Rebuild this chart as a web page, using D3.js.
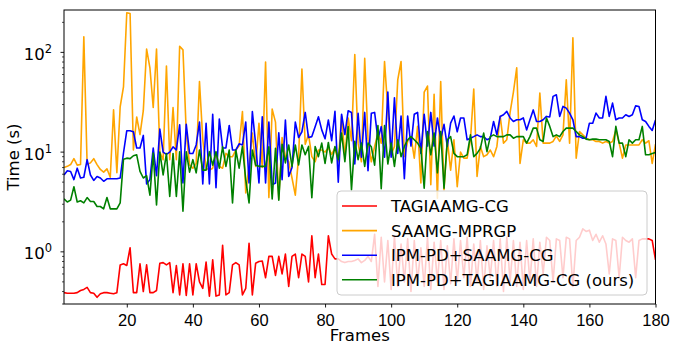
<!DOCTYPE html>
<html>
<head>
<meta charset="utf-8">
<script src="https://cdn.jsdelivr.net/npm/d3@7"></script>
<style>
  body { margin: 0; background: #fff; }
  svg { display: block; font-family: "DejaVu Sans", sans-serif; }
</style>
</head>
<body>
<svg id="chart"></svg>
<script>
const width = 673;
const height = 346;
const margin = { top: 10, right: 17.5, bottom: 42, left: 64 };

// Frames 1..180
const frames = d3.range(1, 181);
const xTicks = [20, 40, 60, 80, 100, 120, 140, 160, 180];
const yTicks = [1, 10, 100];

const seriesNames = ["TAGIAAMG-CG", "SAAMG-MPRGP", "IPM-PD+SAAMG-CG", "IPM-PD+TAGIAAMG-CG (ours)"];
const seriesColors = ["red", "orange", "blue", "green"];

const tagiaamgCG = [
  0.39,0.385,0.385,0.385,0.39,0.41,0.42,0.44,0.39,0.385,
  0.35,0.38,0.39,0.39,0.385,0.38,0.39,0.74,0.76,0.73,
  1.1,0.39,0.39,0.76,0.4,0.74,0.39,0.39,0.41,0.77,
  0.78,0.74,0.78,0.39,0.73,0.37,0.76,0.365,0.76,0.37,
  0.76,0.5,0.43,0.79,0.36,0.83,0.36,0.37,1.16,0.37,
  0.39,0.74,0.78,0.74,0.37,0.43,1.22,0.37,0.77,0.8,
  0.81,0.55,0.9,0.9,0.58,0.9,0.6,0.95,0.45,0.9,
  0.95,0.55,0.95,0.9,0.5,1.45,0.55,0.95,0.47,0.47,
  1.45,0.95,0.85,0.85,0.8,0.78,0.8,0.8,0.82,0.85,
  0.78,0.82,0.9,0.8,1.5,0.45,1.4,0.5,1.3,0.42,
  1.45,0.45,1.2,0.5,1.35,0.4,1.3,0.5,1.1,0.45,
  1.4,0.42,1.25,0.5,1.3,0.42,1.15,0.48,1.35,0.5,
  1.3,0.55,1.4,0.45,1.2,0.5,1.3,0.42,1.15,0.55,
  1.3,0.45,1.35,0.4,1.4,0.5,1.3,0.45,1.25,0.42,
  1.3,0.5,1.35,0.45,1.25,0.6,1.4,1.3,0.5,1.35,
  1.3,0.55,1.4,1.35,0.45,1.3,1.4,1.7,1.6,1.65,
  1.3,1.5,1.25,1.45,1.2,0.6,1.35,1.3,0.55,1.4,
  1.3,1.25,1.35,0.55,1.3,1.35,1.35,1.35,1.3,0.83
];

const saamgMPRGP = [
  7.0,7.2,7.5,8.6,7.4,7.5,143,7.5,7.8,8.6,
  7.5,6.7,6.3,6.8,5.6,26.5,6.2,28.5,45,250,
  245,10.5,22.5,15,26,108,70,28,108,10,
  8.4,73,8.4,28,8.4,115,106,15.6,7.45,6.9,
  7.7,51,13.3,6.9,6.6,6.9,9.7,7.2,6.9,9.7,
  9.0,9.0,10.5,11.6,25.5,3.9,7.2,15.5,7.2,19.5,
  7,80,3.5,27,20,3.4,14,9,8,5.5,
  3.7,9,68,12,15,9,8,10.5,10.5,10,
  11,9.5,11,8,23,9,22,13,95,12.3,
  8.0,87,13.3,8.0,11.4,15.5,12.3,81,26.5,9.4,
  11.4,53,81,9.0,12.8,14.3,8.7,18.1,4.9,40,
  46,4.7,38,3.45,51,4.2,13.3,6.6,13.3,4.5,
  10,8.7,8.7,13.3,43,5.7,11.4,9,9.4,10.5,
  9,11.4,23,12.3,13.3,25,40,70,7.7,13.3,
  12.3,12.3,13.3,11.4,39,12.3,12.3,12.3,12.8,14.5,
  12.8,14.9,53,12.3,140,8.7,16.1,14.9,13.8,13.3,
  13.3,12.8,12.8,12.3,12.8,12.3,12.8,16.7,12.3,8.7,
  11.8,11.8,11.8,11.8,11.8,13.3,12.3,13,7.7,12
];

const ipmSAAMG = [
  5.9,6.5,6.4,5.3,6.9,5.5,5.6,8.4,5.9,5.2,
  5.7,5.5,5.1,5.4,5.4,5.4,5.4,5.5,9.8,16.4,
  16.4,16,11,11,14.7,4.8,5.3,11,5.8,17,
  10,9.5,10,11.3,10.5,18.8,4.9,19,9.7,9.7,
  11.8,20,4.8,19.5,4.8,24,4.4,21.5,11,11,
  18.5,10.5,10.5,12.1,11.8,20,4.9,25.5,12,4.9,
  22.6,4.9,20,4.7,4.9,15.6,5.3,21,5.7,7,
  20,14,16,25,14,14.3,18,22.6,16.7,13.6,
  21,13,25.7,5,24,15,26,25,7.6,24.5,
  8.9,25,6.5,24.5,25,13.5,18,8.9,40,8.9,
  35,9.7,23,5.4,23,11.5,24,25,9.7,24,
  11.5,25,11.5,22,13.5,19,11.4,19.5,23,16,
  22,22,13.3,13.8,14.3,14.9,14.3,14.3,13.3,13.8,
  20.3,14.9,22.8,23.7,25.6,22,20.3,21.1,21.1,22,
  16.7,21.1,26.5,20.3,20.3,21.1,22.8,22.5,36.2,37.6,
  22.8,28.7,27.6,24.6,21.1,14.3,14.3,13.8,13.8,19.5,
  19.5,24.6,22,22,36.2,22.8,31,21.1,22,22,
  23.7,22.8,23.7,29.1,28.7,21.1,20.3,18.1,16.5,21
];

const ipmTAGIAAMG = [
  3.4,3.16,3.3,4.5,3.16,3.25,3.1,3.5,3.2,3.2,
  2.85,2.85,2.7,3.5,2.7,2.7,2.7,3.1,8.5,8.7,
  8.6,9.2,9.4,6.4,5.5,5.8,3.7,9.8,2.95,10,
  5.9,9.7,3.6,9.7,3.6,10.1,2.55,10.1,6.3,8.4,
  6.2,10.5,6.6,6.6,10.1,7.4,10.1,6.9,11.3,7.2,
  10.5,3.1,10.5,6.9,11.4,5.3,3.1,10.5,7.4,7.2,
  7.2,7.2,11.3,3.4,10.9,3.3,12,7.8,11.8,7.2,
  11.8,7.45,11.8,9.4,11.4,3.5,11.4,9.0,12.3,7.7,
  12.5,7.8,11.4,8.4,15.5,8.0,18,4.2,12.8,8.4,
  12.3,7.2,12.3,11.3,7.4,18.5,4.3,18.5,7.6,12.3,
  7.2,13.3,9.0,11.4,13.3,14.3,13.3,12.3,10.9,4.35,
  16.1,9.4,15.5,6.2,16.1,4.35,13.3,14.3,9.7,9.0,
  9.0,9.0,9.4,14.9,9.0,9.7,10.9,15.5,10.1,14.3,
  14.9,14.3,14.3,14.3,14.9,14.9,13.8,14.3,14.3,14.3,
  12.3,14.3,17.4,17.4,13.3,12.8,22,18.1,14.3,14.9,
  14.3,16.1,17.4,17.4,17.4,16.1,14.9,14.3,13.5,13.3,
  13.5,13.5,13.3,13.3,13.3,12.8,9.0,18.1,12.3,12.3,
  9.0,13.3,12.3,13.3,13.3,18.1,9.4,9.4,9.7,9.9
];

const allSeries = [tagiaamgCG, saamgMPRGP, ipmSAAMG, ipmTAGIAAMG];

const svg = d3.select("#chart")
  .attr("width", width)
  .attr("height", height);

const x = d3.scaleLinear()
  .domain([1, 180])
  .range([margin.left, width - margin.right]);

const y = d3.scaleLog()
  .domain([0.3, 266])
  .range([height - margin.bottom, margin.top]);

svg.append("clipPath").attr("id", "plot-clip")
  .append("rect")
  .attr("x", margin.left).attr("y", margin.top)
  .attr("width", width - margin.left - margin.right)
  .attr("height", height - margin.top - margin.bottom);

// Lines
const line = d3.line()
  .x((d, i) => x(frames[i]))
  .y(d => y(d));

const plot = svg.append("g").attr("clip-path", "url(#plot-clip)");
allSeries.forEach((values, k) => {
  plot.append("path")
    .datum(values)
    .attr("fill", "none")
    .attr("stroke", seriesColors[k])
    .attr("stroke-width", 1.6)
    .attr("stroke-linejoin", "round")
    .attr("d", line);
});

// X axis
const xAxis = svg.append("g")
  .attr("transform", `translate(0, ${height - margin.bottom})`)
  .call(d3.axisBottom(x).tickValues(xTicks).tickSize(3.5).tickPadding(6.5).tickSizeOuter(0));
xAxis.select(".domain").remove();
xAxis.selectAll("text").style("font-size", "16.5px").attr("fill", "#000");
xAxis.selectAll("line").attr("stroke", "#000").attr("stroke-width", 0.9);

// Y axis, log
const minorTicks = [];
[0.1, 1, 10, 100].forEach(base => {
  for (let m = 2; m <= 9; m++) {
    const v = base * m;
    if (v >= 0.3 && v <= 266) minorTicks.push(v);
  }
});

const yAxis = svg.append("g").attr("transform", `translate(${margin.left}, 0)`);
yAxis.selectAll(".minor")
  .data(minorTicks)
  .join("line")
  .attr("x1", -2).attr("x2", 0)
  .attr("y1", d => y(d)).attr("y2", d => y(d))
  .attr("stroke", "#000").attr("stroke-width", 0.7);

yAxis.selectAll(".major")
  .data(yTicks)
  .join("line")
  .attr("x1", -3.5).attr("x2", 0)
  .attr("y1", d => y(d)).attr("y2", d => y(d))
  .attr("stroke", "#000").attr("stroke-width", 0.9);

const yLabels = yAxis.selectAll(".ylab")
  .data(yTicks)
  .join("text")
  .attr("x", -12)
  .attr("y", d => y(d) + 7.5)
  .attr("text-anchor", "end")
  .style("font-size", "16.5px");
yLabels.append("tspan").text("10");
yLabels.append("tspan")
  .attr("dy", -7)
  .style("font-size", "11.5px")
  .text(d => Math.round(Math.log10(d)));

// Frame
svg.append("rect")
  .attr("x", margin.left).attr("y", margin.top)
  .attr("width", width - margin.left - margin.right)
  .attr("height", height - margin.top - margin.bottom)
  .attr("fill", "none")
  .attr("stroke", "#000")
  .attr("stroke-width", 1);

// Axis titles
svg.append("text")
  .attr("x", (margin.left + width - margin.right) / 2)
  .attr("y", 341)
  .attr("text-anchor", "middle")
  .style("font-size", "16.5px")
  .text("Frames");

svg.append("text")
  .attr("transform", "rotate(-90)")
  .attr("x", -(margin.top + height - margin.bottom) / 2)
  .attr("y", 19)
  .attr("text-anchor", "middle")
  .style("font-size", "16.5px")
  .text("Time (s)");

// Legend
const legend = svg.append("g").attr("transform", "translate(337, 191)");
legend.append("rect")
  .attr("width", 310)
  .attr("height", 104)
  .attr("rx", 4).attr("ry", 4)
  .attr("fill", "#fff")
  .attr("fill-opacity", 0.8)
  .attr("stroke", "#ccc")
  .attr("stroke-width", 1);

seriesNames.forEach((name, i) => {
  const cy = 15 + i * 24.6;
  legend.append("line")
    .attr("x1", 5).attr("x2", 40)
    .attr("y1", cy).attr("y2", cy)
    .attr("stroke", seriesColors[i])
    .attr("stroke-width", 1.6);
  legend.append("text")
    .attr("x", 54)
    .attr("y", cy + 6)
    .style("font-size", "16.5px")
    .text(name);
});
</script>
</body>
</html>
